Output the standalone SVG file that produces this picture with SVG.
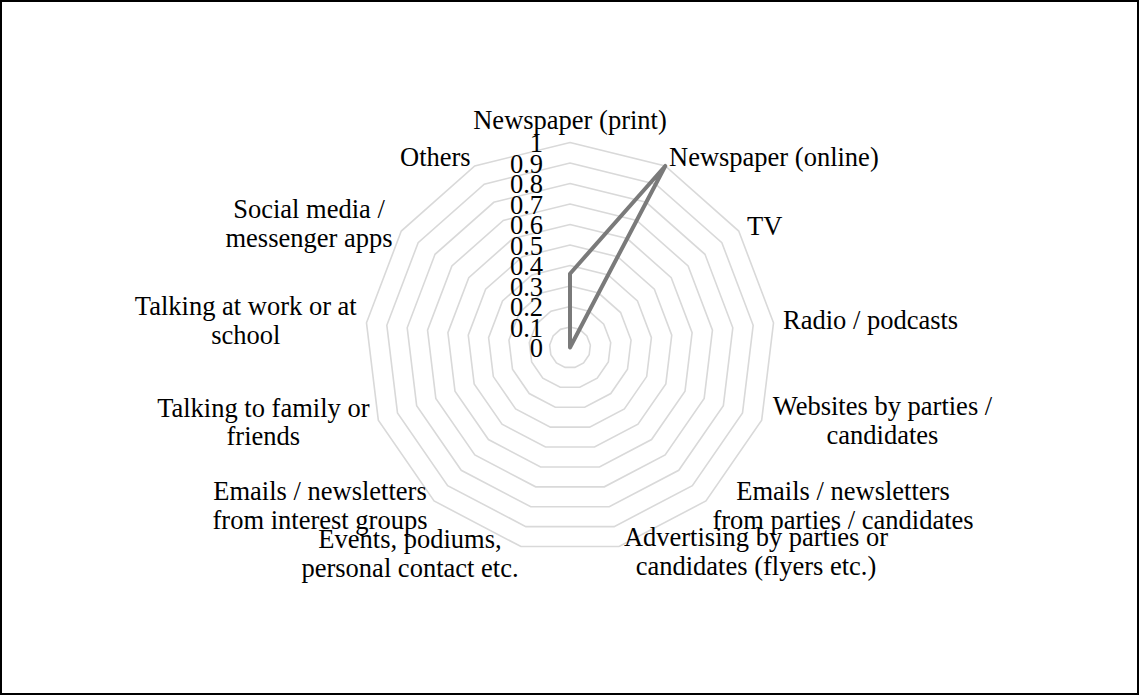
<svg xmlns="http://www.w3.org/2000/svg" width="1139" height="695" viewBox="0 0 1139 695">
<style>
.ring{fill:none;stroke:#d9d9d9;stroke-width:1.6}
.lbl{font-family:"Liberation Serif","Times New Roman",serif;font-size:26.5px;fill:#000}
.tick{font-family:"Liberation Serif","Times New Roman",serif;font-size:26.5px;fill:#000;text-anchor:end}
.mid{text-anchor:middle}
.series{fill:none;stroke:#7a7a7a;stroke-width:4;stroke-linejoin:round}
</style>
<rect x="0" y="0" width="1139" height="695" fill="#fff"/>
<rect x="1" y="1" width="1137" height="693" fill="none" stroke="#000" stroke-width="2"/>
<g id="grid" transform="translate(570 347.5)">
<polygon class="ring" points="0,-20.5 9.53,-18.15 16.87,-11.65 20.35,-2.47 19.17,7.27 13.59,15.34 4.91,19.9 -4.91,19.9 -13.59,15.34 -19.17,7.27 -20.35,-2.47 -16.87,-11.65 -9.53,-18.15"/>
<polygon class="ring" points="0,-41 19.05,-36.30 33.74,-23.29 40.70,-4.94 38.34,14.54 27.19,30.69 9.81,39.81 -9.81,39.81 -27.19,30.69 -38.34,14.54 -40.70,-4.94 -33.74,-23.29 -19.05,-36.30"/>
<polygon class="ring" points="0,-61.5 28.58,-54.46 50.61,-34.94 61.05,-7.41 57.50,21.81 40.78,46.03 14.72,59.71 -14.72,59.71 -40.78,46.03 -57.50,21.81 -61.05,-7.41 -50.61,-34.94 -28.58,-54.46"/>
<polygon class="ring" points="0,-82 38.11,-72.61 67.48,-46.58 81.40,-9.88 76.67,29.08 54.38,61.38 19.62,79.62 -19.62,79.62 -54.38,61.38 -76.67,29.08 -81.40,-9.88 -67.48,-46.58 -38.11,-72.61"/>
<polygon class="ring" points="0,-102.5 47.63,-90.76 84.36,-58.23 101.75,-12.36 95.84,36.35 67.97,76.72 24.53,99.52 -24.53,99.52 -67.97,76.72 -95.84,36.35 -101.75,-12.36 -84.36,-58.23 -47.63,-90.76"/>
<polygon class="ring" points="0,-123 57.16,-108.91 101.23,-69.87 122.10,-14.83 115.01,43.62 81.56,92.07 29.44,119.43 -29.44,119.43 -81.56,92.07 -115.01,43.62 -122.10,-14.83 -101.23,-69.87 -57.16,-108.91"/>
<polygon class="ring" points="0,-143.5 66.69,-127.06 118.10,-81.52 142.45,-17.30 134.18,50.89 95.16,107.41 34.34,139.33 -34.34,139.33 -95.16,107.41 -134.18,50.89 -142.45,-17.30 -118.10,-81.52 -66.69,-127.06"/>
<polygon class="ring" points="0,-164 76.21,-145.22 134.97,-93.16 162.80,-19.77 153.34,58.15 108.75,122.76 39.25,159.23 -39.25,159.23 -108.75,122.76 -153.34,58.15 -162.80,-19.77 -134.97,-93.16 -76.21,-145.22"/>
<polygon class="ring" points="0,-184.5 85.74,-163.37 151.84,-104.81 183.16,-22.24 172.51,65.42 122.35,138.10 44.15,179.14 -44.15,179.14 -122.35,138.10 -172.51,65.42 -183.16,-22.24 -151.84,-104.81 -85.74,-163.37"/>
<polygon class="ring" points="0,-205 95.27,-181.52 168.71,-116.45 203.51,-24.71 191.68,72.69 135.94,153.45 49.06,199.04 -49.06,199.04 -135.94,153.45 -191.68,72.69 -203.51,-24.71 -168.71,-116.45 -95.27,-181.52"/>
</g>
<g id="series" transform="translate(570 347.5)">
<polygon class="series" points="0,0 0,-73.8 95.27,-181.52"/>
</g>
<g id="ticks">
<text class="tick" x="543" y="357">0</text>
<text class="tick" x="543" y="336.5">0.1</text>
<text class="tick" x="543" y="316">0.2</text>
<text class="tick" x="543" y="295.5">0.3</text>
<text class="tick" x="543" y="275">0.4</text>
<text class="tick" x="543" y="254.5">0.5</text>
<text class="tick" x="543" y="234">0.6</text>
<text class="tick" x="543" y="213.5">0.7</text>
<text class="tick" x="543" y="193">0.8</text>
<text class="tick" x="543" y="172.5">0.9</text>
<text class="tick" x="543" y="152">1</text>
</g>
<g id="lbl-print"><text class="lbl mid" x="570" y="129">Newspaper (print)</text></g>
<g id="lbl-online"><text class="lbl" x="669" y="166">Newspaper (online)</text></g>
<g id="lbl-tv"><text class="lbl" x="747" y="235">TV</text></g>
<g id="lbl-radio"><text class="lbl" x="783" y="329">Radio / podcasts</text></g>
<g id="lbl-websites"><text class="lbl mid" x="882.5" y="415">Websites by parties /<tspan x="882.5" dy="28.5">candidates</tspan></text></g>
<g id="lbl-emails-parties"><text class="lbl mid" x="843" y="500">Emails / newsletters<tspan x="843" dy="28.5">from parties / candidates</tspan></text></g>
<g id="lbl-advertising"><text class="lbl mid" x="756" y="546">Advertising by parties or<tspan x="756" dy="28.5">candidates (flyers etc.)</tspan></text></g>
<g id="lbl-events"><text class="lbl mid" x="410" y="548">Events, podiums,<tspan x="410" dy="28.5">personal contact etc.</tspan></text></g>
<g id="lbl-emails-interest"><text class="lbl mid" x="320" y="500">Emails / newsletters<tspan x="320" dy="28.5">from interest groups</tspan></text></g>
<g id="lbl-family"><text class="lbl mid" x="263.3" y="416.5">Talking to family or<tspan x="263.3" dy="28.5">friends</tspan></text></g>
<g id="lbl-work"><text class="lbl mid" x="245.8" y="315">Talking at work or at<tspan x="245.8" dy="28.5">school</tspan></text></g>
<g id="lbl-social"><text class="lbl mid" x="309" y="218">Social media /<tspan x="309" dy="28.5">messenger apps</tspan></text></g>
<g id="lbl-others"><text class="lbl" x="400" y="166">Others</text></g>
</svg>
